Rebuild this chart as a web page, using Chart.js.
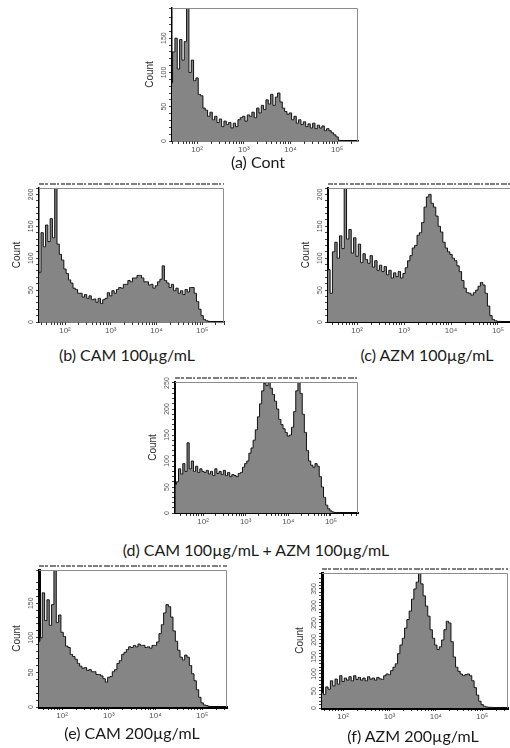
<!DOCTYPE html>
<html>
<head>
<meta charset="utf-8">
<script src="https://cdn.jsdelivr.net/npm/chart.js@4.4.1/dist/chart.umd.min.js"></script>
<style>
  body { margin: 0; width: 510px; height: 748px; overflow: hidden; background: #fff; position: relative; }
  canvas { position: absolute; }
  .caption {
    position: absolute; white-space: nowrap; transform: translate(-50%, -50%);
    font-family: Lato, 'Open Sans', sans-serif; font-size: 16px; color: #1a1a1a;
  }
</style>
</head>
<body>
<script>
// --- histogram bins (channel value at bin centre, 1/20 decade apart) ---
const binCenters = [
  22.4, 25.1, 28.2, 31.6, 35.5, 39.8, 44.7, 50.1, 56.2, 63.1,
  70.8, 79.4, 89.1, 100, 112, 126, 141, 158, 178, 200,
  224, 251, 282, 316, 355, 398, 447, 501, 562, 631,
  708, 794, 891, 1000, 1120, 1260, 1410, 1580, 1780, 2000,
  2240, 2510, 2820, 3160, 3550, 3980, 4470, 5010, 5620, 6310,
  7080, 7940, 8910, 10000, 11200, 12600, 14100, 15800, 17800, 20000,
  22400, 25100, 28200, 31600, 35500, 39800, 44700, 50100, 56200, 63100,
  70800, 79400, 89100, 100000, 112000, 126000, 141000, 158000, 178000, 200000,
  224000, 251000, 282000, 316000, 355000, 398000
];

// --- counts per bin ---
const countsCont = [
  80, 80, 85, 130, 150, 105, 148, 118, 145, 240,
  100, 118, 88, 92, 68, 66, 48, 45, 36, 42,
  31, 36, 27, 32, 21, 29, 24, 27, 19, 26,
  21, 31, 34, 36, 29, 38, 36, 42, 34, 48,
  41, 52, 46, 60, 54, 68, 52, 64, 70, 57,
  48, 43, 39, 41, 31, 36, 26, 31, 24, 28,
  21, 25, 19, 26, 18, 23, 19, 22, 15, 18,
  15, 12, 9, 6, 1, 0, 0, 0, 0, 0,
  0, 0, 0, 0, 0, 0
];
const countsCam100 = [
  75, 75, 78, 140, 118, 152, 126, 162, 132, 250,
  122, 106, 97, 83, 76, 66, 61, 53, 51, 45,
  45, 39, 43, 37, 41, 35, 36, 31, 37, 29,
  35, 37, 46, 41, 49, 45, 51, 54, 53, 59,
  59, 65, 63, 69, 69, 73, 73, 69, 63, 63,
  58, 59, 53, 57, 63, 67, 88, 65, 61, 54,
  59, 49, 53, 45, 49, 43, 51, 47, 54, 54,
  45, 32, 20, 10, 4, 2, 1, 0, 0, 0,
  0, 0, 0, 0, 0, 0
];
const countsAzm100 = [
  80, 82, 45, 110, 125, 100, 135, 115, 260, 130,
  145, 108, 132, 103, 122, 93, 107, 98, 92, 104,
  86, 96, 81, 89, 79, 87, 74, 81, 69, 77,
  71, 79, 69, 76, 85, 96, 104, 116, 120, 136,
  140, 156, 180, 196, 200, 186, 180, 166, 150, 141,
  125, 116, 110, 106, 100, 96, 88, 79, 65, 53,
  46, 45, 42, 46, 50, 56, 62, 58, 45, 25,
  10, 4, 2, 1, 1, 0, 0, 0, 0, 0,
  0, 0, 0, 0, 0, 0
];
const countsCombo = [
  55, 60, 85, 75, 95, 80, 135, 85, 100, 80,
  90, 78, 85, 80, 78, 82, 75, 80, 72, 85,
  76, 80, 74, 82, 72, 78, 70, 74, 72, 70,
  76, 78, 88, 95, 100, 115, 125, 140, 160, 185,
  210, 235, 250, 245, 255, 240, 228, 215, 200, 180,
  170, 162, 155, 148, 150, 165, 195, 235, 255, 230,
  190, 155, 120, 100, 92, 88, 95, 90, 70, 50,
  30, 15, 8, 4, 2, 1, 1, 0, 0, 0,
  0, 0, 0, 0, 0, 0
];
const countsCam200 = [
  90, 90, 92, 95, 100, 165, 125, 155, 118, 148,
  230, 122, 133, 108, 102, 88, 86, 76, 73, 69,
  63, 59, 56, 57, 53, 54, 51, 51, 47, 47,
  45, 41, 36, 43, 44, 51, 54, 63, 67, 76,
  79, 83, 87, 86, 89, 87, 91, 89, 89, 86,
  87, 85, 89, 89, 94, 106, 119, 136, 148, 145,
  130, 110, 95, 82, 72, 68, 75, 72, 60, 48,
  38, 25, 14, 6, 3, 2, 1, 0, 0, 0,
  0, 0, 0, 0, 0, 0
];
const countsAzm200 = [
  40, 40, 40, 42, 45, 40, 62, 55, 80, 65,
  85, 70, 95, 78, 88, 82, 92, 80, 95, 84,
  90, 82, 88, 80, 92, 85, 88, 82, 90, 86,
  84, 95, 100, 98, 110, 120, 130, 160, 185, 205,
  235, 260, 285, 320, 350, 370, 400, 365, 330, 300,
  270, 230, 205, 185, 172, 180, 200, 230, 255, 250,
  195, 150, 120, 108, 100, 95, 98, 100, 95, 80,
  60, 38, 20, 10, 5, 3, 2, 2, 1, 1,
  0, 0, 0, 0, 0, 0
];

const captions = [
  '(a) Cont',
  '(b) CAM 100µg/mL',
  '(c) AZM 100µg/mL',
  '(d) CAM 100µg/mL + AZM 100µg/mL',
  '(e) CAM 200µg/mL',
  '(f) AZM 200µg/mL'
];
const superDigits = { 1: '¹', 2: '²', 3: '³', 4: '⁴', 5: '⁵' };

// --- page layout: plot box [left, top, right, bottom] in page px ---
const panels = [
  { counts: countsCont,   box: [172, 8, 358, 141],   xMin: 29, xMax: 280000, yMax: 194, axisW: 1.5, header: false, cap: [258, 161] },
  { counts: countsCam100, box: [39, 188, 224, 322],  xMin: 27, xMax: 300000, yMax: 210, axisW: 1.5, header: true,  cap: [127, 354] },
  { counts: countsAzm100, box: [328, 188, 519, 322], xMin: 24, xMax: 280000, yMax: 210, axisW: 2,   header: true,  cap: [427, 354] },
  { counts: countsCombo,  box: [175, 382, 358, 513], xMin: 22, xMax: 430000, yMax: 252, axisW: 2,   header: true,  cap: [256, 549] },
  { counts: countsCam200, box: [39, 570, 227, 707],  xMin: 32, xMax: 340000, yMax: 198, axisW: 3,   header: true,  cap: [132, 732] },
  { counts: countsAzm200, box: [322, 573, 508, 708], xMin: 35, xMax: 360000, yMax: 397, axisW: 3,   header: true,  cap: [413, 735] }
];
const YW = 30, XH = 18, PAD_TOP = 8, PAD_RIGHT = 4;

// frame, header strip, rotated y labels and the "Count" title
const panelDecor = {
  id: 'panelDecor',
  afterDraw(chart, args, opts) {
    const { ctx, chartArea: a } = chart;
    const y = chart.scales.y;
    ctx.save();
    ctx.strokeStyle = '#8c8c8c';
    ctx.lineWidth = 1;
    ctx.beginPath();
    ctx.moveTo(a.left, a.top + 0.5);
    ctx.lineTo(a.right - 0.5, a.top + 0.5);
    ctx.lineTo(a.right - 0.5, a.bottom);
    ctx.stroke();

    if (opts.header) {
      ctx.strokeStyle = '#555';
      ctx.lineWidth = 1.5;
      ctx.setLineDash([5, 1, 3, 2, 6, 1, 2, 2, 4, 1]);
      ctx.beginPath();
      ctx.moveTo(a.left, a.top - 4);
      ctx.lineTo(a.right, a.top - 4);
      ctx.stroke();
      ctx.setLineDash([]);
    }

    ctx.fillStyle = '#555';
    ctx.font = '7px "Liberation Sans", sans-serif';
    ctx.textAlign = 'center';
    ctx.textBaseline = 'middle';
    for (let v = 0; v <= y.max; v += 50) {
      ctx.save();
      ctx.translate(a.left - 8, y.getPixelForValue(v));
      ctx.rotate(-Math.PI / 2);
      ctx.fillText(String(v), 0, 0);
      ctx.restore();
    }

    ctx.fillStyle = '#2a2a2a';
    ctx.font = '10px "Liberation Sans", sans-serif';
    ctx.translate(a.left - 22, (a.top + a.bottom) / 2);
    ctx.rotate(-Math.PI / 2);
    ctx.fillText('Count', 0, 0);
    ctx.restore();
  }
};

function logTicks(scale) {
  const t = [];
  for (let e = 1; e <= 5; e++) {
    for (let k = 1; k <= 9; k++) {
      const v = k * Math.pow(10, e);
      if (v >= scale.min && v <= scale.max) t.push({ value: v, major: k === 1 });
    }
  }
  scale.ticks = t;
}

panels.forEach((p, idx) => {
  const [L, T, R, B] = p.box;
  const cv = document.createElement('canvas');
  cv.width = R - L + YW + PAD_RIGHT;
  cv.height = B - T + PAD_TOP + XH;
  cv.style.left = (L - YW) + 'px';
  cv.style.top = (T - PAD_TOP) + 'px';
  document.body.appendChild(cv);

  const cap = document.createElement('div');
  cap.className = 'caption';
  cap.textContent = captions[idx];
  cap.style.left = p.cap[0] + 'px';
  cap.style.top = p.cap[1] + 'px';
  document.body.appendChild(cap);

  new Chart(cv, {
    type: 'line',
    data: {
      datasets: [{
        data: binCenters.map((x, i) => ({ x, y: p.counts[i] })),
        borderColor: '#111',
        borderWidth: 1,
        backgroundColor: '#858585',
        fill: 'origin',
        pointRadius: 0,
        stepped: 'middle'
      }]
    },
    options: {
      responsive: false,
      animation: false,
      layout: { padding: { top: PAD_TOP, right: PAD_RIGHT, left: 0, bottom: 0 } },
      plugins: {
        legend: { display: false },
        tooltip: { enabled: false },
        panelDecor: { header: p.header }
      },
      scales: {
        x: {
          type: 'logarithmic',
          min: p.xMin,
          max: p.xMax,
          afterFit(s) { s.height = XH; },
          afterBuildTicks: logTicks,
          ticks: {
            autoSkip: false, maxRotation: 0, minRotation: 0, padding: 1,
            color: '#555', font: { size: 8, family: 'Liberation Sans' },
            callback(v, i, ticks) {
              if (!ticks[i].major) return '';
              return '10' + superDigits[Math.round(Math.log10(v))];
            }
          },
          grid: { drawOnChartArea: false, tickLength: 3, tickColor: '#333' },
          border: { color: '#000', width: p.axisW }
        },
        y: {
          min: 0,
          max: p.yMax,
          afterFit(s) { s.width = YW; },
          ticks: { display: false, stepSize: 10 },
          grid: { drawOnChartArea: false, tickLength: 3, tickColor: '#444' },
          border: { color: '#000', width: p.axisW }
        }
      }
    },
    plugins: [panelDecor]
  });
});
</script>
</body>
</html>
